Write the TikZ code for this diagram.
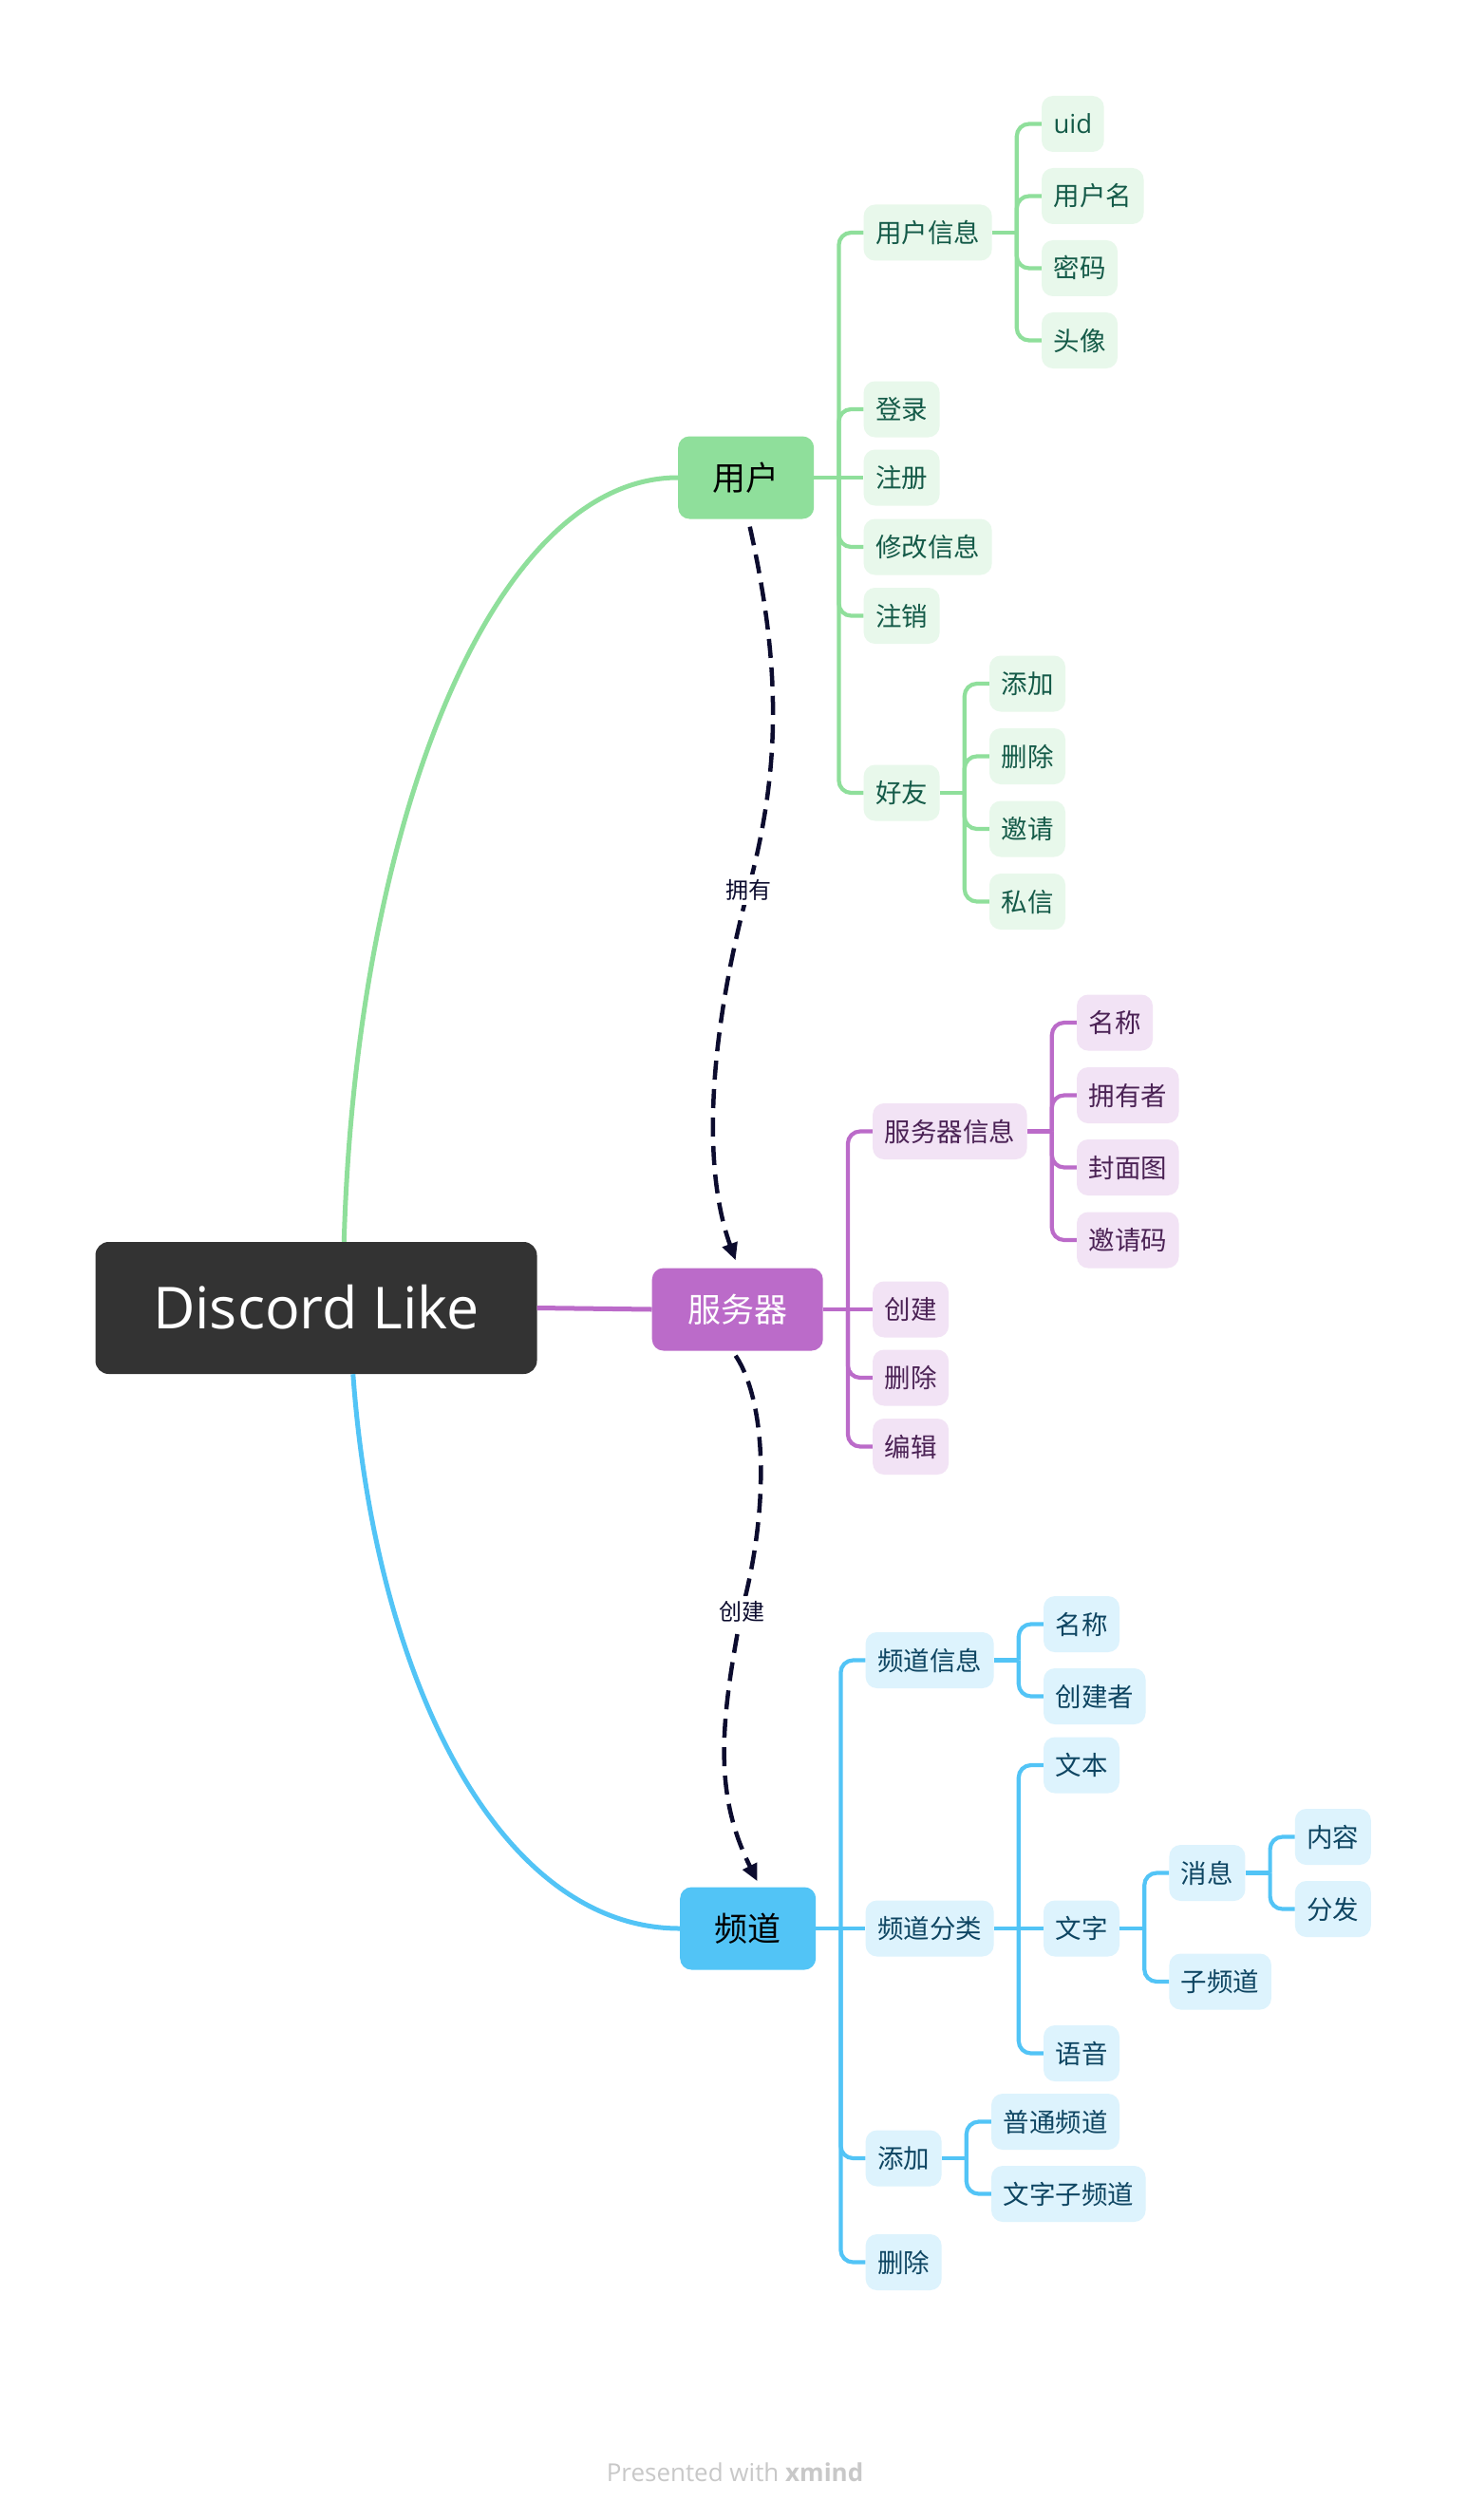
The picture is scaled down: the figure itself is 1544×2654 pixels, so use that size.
\documentclass[tikz,border=0pt]{standalone}
\usepackage{fontspec}
\setmainfont{Open Sans}
\newfontfamily\cjk{Noto Sans CJK SC}
\usetikzlibrary{calc,arrows.meta}
\definecolor{gmain}{HTML}{8FDF9B}
\definecolor{glight}{HTML}{E8F8EB}
\definecolor{gtext}{HTML}{145A48}
\definecolor{pmain}{HTML}{BB6BC9}
\definecolor{plight}{HTML}{F2E3F5}
\definecolor{ptext}{HTML}{4B2255}
\definecolor{bmain}{HTML}{52C4F6}
\definecolor{blight}{HTML}{DDF3FD}
\definecolor{btext}{HTML}{0E4562}
\definecolor{rootc}{HTML}{333333}
\definecolor{navy}{HTML}{0C0C2E}
\definecolor{foot}{HTML}{C8C8C8}
\begin{document}
\begin{tikzpicture}[x=1pt,y=1pt,
  sub/.style={rounded corners=12pt, minimum height=59pt, inner xsep=12.5pt, inner ysep=0pt,
    font=\cjk\fontsize{27.5}{27.5}\selectfont, text height=22pt, text depth=1pt, anchor=west},
  gsub/.style={sub, fill=glight, text=gtext},
  psub/.style={sub, fill=plight, text=ptext},
  bsub/.style={sub, fill=blight, text=btext},
  topic/.style={rounded corners=12pt, minimum height=87pt, inner xsep=36.5pt, inner ysep=0pt,
    font=\cjk\fontsize{35}{35}\selectfont, text height=27.5pt, text depth=1pt, anchor=west},
  gline/.style={draw=gmain, line width=4.2pt},
  pline/.style={draw=pmain, line width=4.2pt},
  bline/.style={draw=bmain, line width=4.2pt},
  elbow/.style={rounded corners=13pt},
  dashline/.style={draw=navy, line width=4.5pt, dash pattern=on 20pt off 10pt,
    -{Triangle[length=18pt,width=16pt]}},
  lbl/.style={fill=white, inner xsep=3pt, inner ysep=6pt, text=navy,
    font=\cjk\fontsize{24}{24}\selectfont, text height=19pt, text depth=1pt}
]
\fill[white] (0,0) rectangle (1544,-2654);
\useasboundingbox (0,0) rectangle (1544,-2654);

% root
\node[fill=rootc, text=white, rounded corners=14pt, minimum width=465pt, minimum height=139pt,
  inner sep=0pt, font=\fontsize{61}{61}\selectfont, text height=43.5pt, text depth=0pt]
  (root) at (333,-1377.5) {Discord Like};

% ===== user branch =====
\node[topic, fill=gmain, text=black, minimum width=143pt] (user) at (714,-503) {用户};
\coordinate (userj) at ($(user.east)+(26,0)$);
\node[gsub] (uinfo)  at ($(user.east |- 0,-245)+(52,0)$) {用户信息};
\node[gsub] (login)  at ($(user.east |- 0,-431)+(52,0)$) {登录};
\node[gsub] (reg)    at ($(user.east)+(52,0)$) {注册};
\node[gsub] (modify) at ($(user.east |- 0,-576)+(52,0)$) {修改信息};
\node[gsub] (cancel) at ($(user.east |- 0,-648.5)+(52,0)$) {注销};
\node[gsub] (friend) at ($(user.east |- 0,-835)+(52,0)$) {好友};
\coordinate (uinfoj) at ($(uinfo.east)+(26,0)$);
\node[gsub] (uid)    at ($(uinfo.east |- 0,-130.5)+(52,0)$) {\rmfamily uid};
\node[gsub] (uname)  at ($(uinfo.east |- 0,-206.5)+(52,0)$) {用户名};
\node[gsub] (pwd)    at ($(uinfo.east |- 0,-282.5)+(52,0)$) {密码};
\node[gsub] (avatar) at ($(uinfo.east |- 0,-358.5)+(52,0)$) {头像};
\coordinate (friendj) at ($(friend.east)+(26,0)$);
\node[gsub] (fadd) at ($(friend.east |- 0,-720)+(52,0)$) {添加};
\node[gsub] (fdel) at ($(friend.east |- 0,-796.5)+(52,0)$) {删除};
\node[gsub] (finv) at ($(friend.east |- 0,-873)+(52,0)$) {邀请};
\node[gsub] (fmsg) at ($(friend.east |- 0,-949.5)+(52,0)$) {私信};

\draw[gline] (user.east) -- (userj) -- (reg.west);
\foreach \c in {uinfo,login,modify,cancel,friend} \draw[gline,elbow] (userj) |- (\c.west);
\draw[gline] (uinfo.east) -- (uinfoj);
\foreach \c in {uid,uname,pwd,avatar} \draw[gline,elbow] (uinfoj) |- (\c.west);
\draw[gline] (friend.east) -- (friendj);
\foreach \c in {fadd,fdel,finv,fmsg} \draw[gline,elbow] (friendj) |- (\c.west);

% ===== server branch =====
\node[topic, fill=pmain, text=white, minimum width=180pt] (server) at (686.5,-1379) {服务器};
\coordinate (serverj) at ($(server.east)+(26,0)$);
\node[psub] (sinfo)   at ($(server.east |- 0,-1191.5)+(52,0)$) {服务器信息};
\node[psub] (screate) at ($(server.east)+(52,0)$) {创建};
\node[psub] (sdel)    at ($(server.east |- 0,-1451)+(52,0)$) {删除};
\node[psub] (sedit)   at ($(server.east |- 0,-1523.5)+(52,0)$) {编辑};
\coordinate (sinfoj) at ($(sinfo.east)+(26,0)$);
\node[psub] (sname)  at ($(sinfo.east |- 0,-1077)+(52,0)$) {名称};
\node[psub] (sowner) at ($(sinfo.east |- 0,-1153.5)+(52,0)$) {拥有者};
\node[psub] (scover) at ($(sinfo.east |- 0,-1229.5)+(52,0)$) {封面图};
\node[psub] (scode)  at ($(sinfo.east |- 0,-1306)+(52,0)$) {邀请码};

\draw[pline] (server.east) -- (serverj) -- (screate.west);
\foreach \c in {sinfo,sdel,sedit} \draw[pline,elbow] (serverj) |- (\c.west);
\draw[pline] (sinfo.east) -- (sinfoj);
\foreach \c in {sname,sowner,scover,scode} \draw[pline,elbow] (sinfoj) |- (\c.west);

% ===== channel branch =====
\node[topic, fill=bmain, text=black, minimum width=142pt] (channel) at (716,-2031) {频道};
\coordinate (channelj) at ($(channel.east)+(26,0)$);
\node[bsub] (cinfo) at ($(channel.east |- 0,-1748.5)+(52,0)$) {频道信息};
\node[bsub] (ccat)  at ($(channel.east)+(52,0)$) {频道分类};
\node[bsub] (cadd)  at ($(channel.east |- 0,-2273)+(52,0)$) {添加};
\node[bsub] (cdel)  at ($(channel.east |- 0,-2382.5)+(52,0)$) {删除};
\coordinate (cinfoj) at ($(cinfo.east)+(26,0)$);
\node[bsub] (cname)    at ($(cinfo.east |- 0,-1710.5)+(52,0)$) {名称};
\node[bsub] (ccreator) at ($(cinfo.east |- 0,-1786.5)+(52,0)$) {创建者};
\coordinate (ccatj) at ($(ccat.east)+(26,0)$);
\node[bsub] (ctext)  at ($(ccat.east |- 0,-1859)+(52,0)$) {文本};
\node[bsub] (cword)  at ($(ccat.east)+(52,0)$) {文字};
\node[bsub] (cvoice) at ($(ccat.east |- 0,-2162.5)+(52,0)$) {语音};
\coordinate (cwordj) at ($(cword.east)+(26,0)$);
\node[bsub] (cmsg) at ($(cword.east |- 0,-1972.5)+(52,0)$) {消息};
\node[bsub] (csub) at ($(cword.east |- 0,-2087)+(52,0)$) {子频道};
\coordinate (cmsgj) at ($(cmsg.east)+(26,0)$);
\node[bsub] (ccontent) at ($(cmsg.east |- 0,-1934.5)+(52,0)$) {内容};
\node[bsub] (cdist)    at ($(cmsg.east |- 0,-2010.5)+(52,0)$) {分发};
\coordinate (caddj) at ($(cadd.east)+(26,0)$);
\node[bsub] (cnormal) at ($(cadd.east |- 0,-2234.5)+(52,0)$) {普通频道};
\node[bsub] (ctsub)   at ($(cadd.east |- 0,-2310.5)+(52,0)$) {文字子频道};

\draw[bline] (channel.east) -- (channelj) -- (ccat.west);
\foreach \c in {cinfo,cadd,cdel} \draw[bline,elbow] (channelj) |- (\c.west);
\draw[bline] (cinfo.east) -- (cinfoj);
\foreach \c in {cname,ccreator} \draw[bline,elbow] (cinfoj) |- (\c.west);
\draw[bline] (ccat.east) -- (ccatj) -- (cword.west);
\foreach \c in {ctext,cvoice} \draw[bline,elbow] (ccatj) |- (\c.west);
\draw[bline] (cword.east) -- (cwordj);
\foreach \c in {cmsg,csub} \draw[bline,elbow] (cwordj) |- (\c.west);
\draw[bline] (cmsg.east) -- (cmsgj);
\foreach \c in {ccontent,cdist} \draw[bline,elbow] (cmsgj) |- (\c.west);
\draw[bline] (cadd.east) -- (caddj);
\foreach \c in {cnormal,ctsub} \draw[bline,elbow] (caddj) |- (\c.west);

% ===== root connectors =====
\draw[gmain, line width=5pt] ($(root.north west)+(262,0)$) .. controls (375,-865) and (519,-503) .. (user.west);
\draw[pmain, line width=5pt] (root.east) -- (server.west);
\draw[bmain, line width=5pt] ($(root.south west)+(271.5,0)$) .. controls (395,-1770) and (526,-2031) .. (channel.west);

% ===== relationship arrows =====
\draw[dashline] ($(user.south)+(4,-8)$) .. controls (822,-700) and (823,-807) .. (788,-937)
  node[lbl] (own) {拥有}
  .. controls (753,-1067) and (735,-1217) .. ($(server.north)+(-2,8)$);
\draw[dashline] ($(server.south)+(-2,-5)$) .. controls (808,-1478) and (810,-1590) .. (781,-1697)
  node[lbl] (create) {创建}
  .. controls (758,-1817) and (752,-1890) .. ($(channel.north)+(10,6)$);

% footer
\node[text=foot, font=\fontsize{26}{26}\selectfont] (footer) at (774,-2604) {Presented with \textbf{xmind}};
\end{tikzpicture}
\end{document}
